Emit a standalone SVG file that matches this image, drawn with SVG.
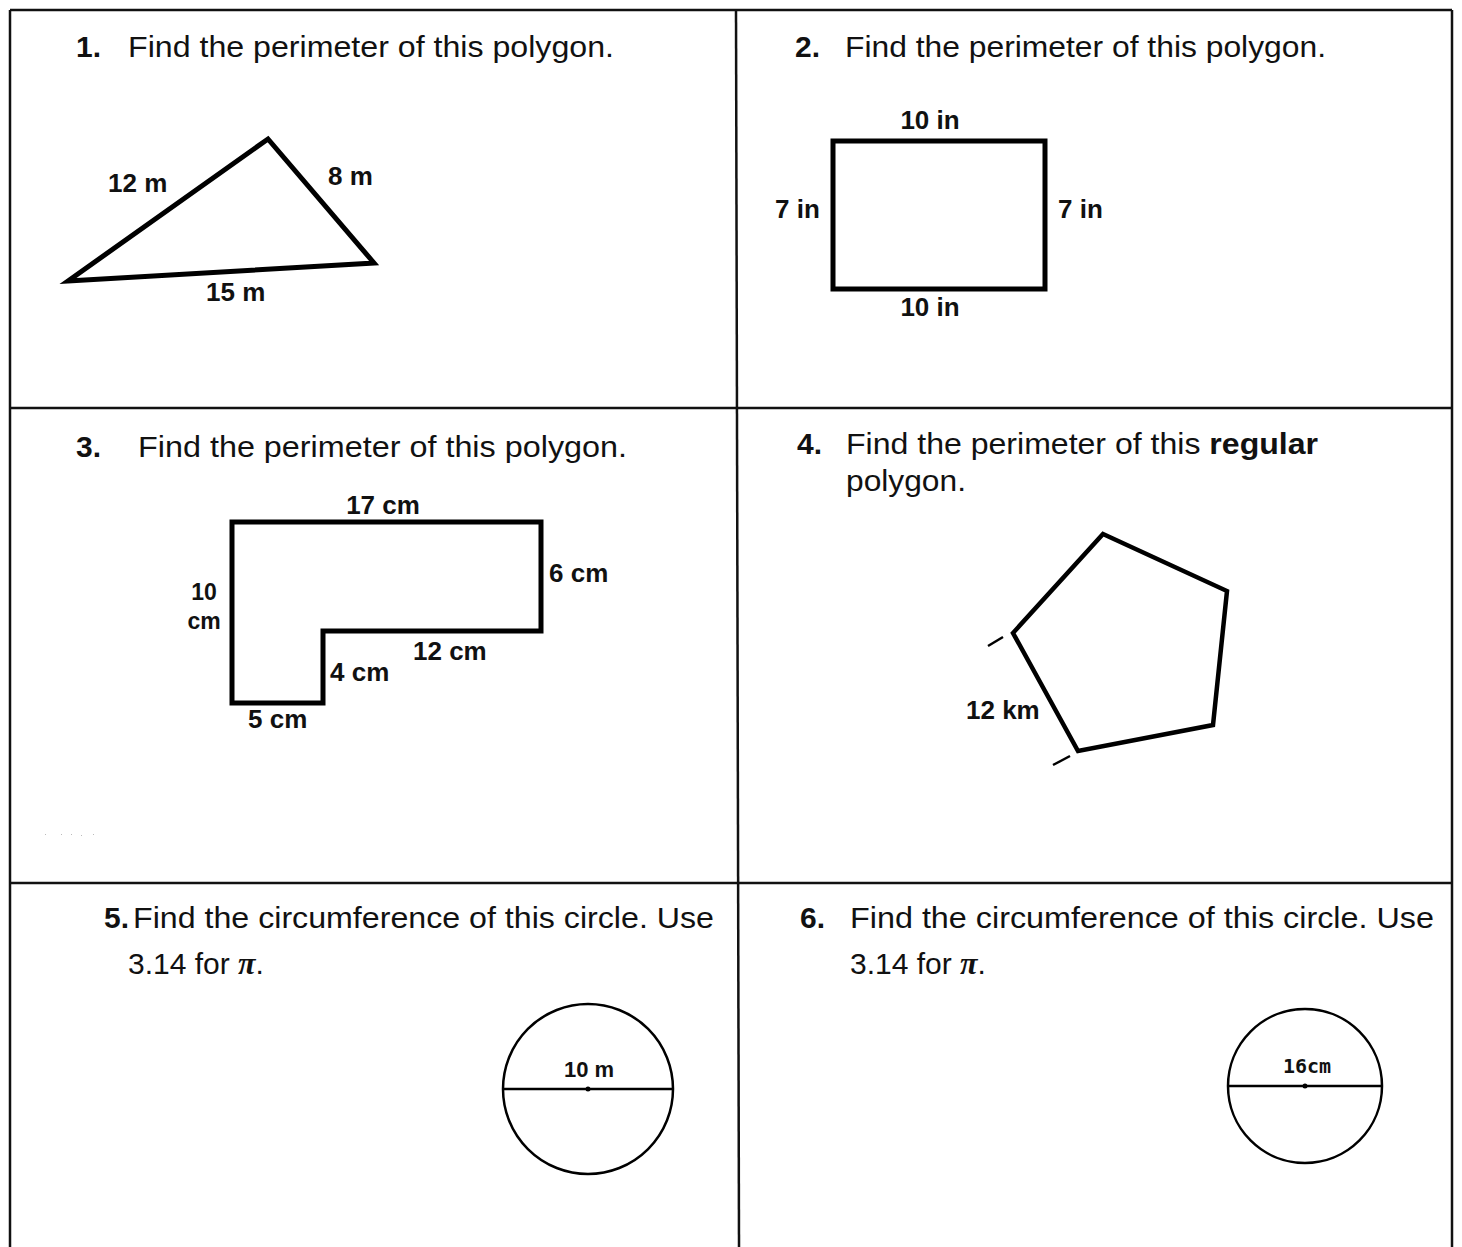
<svg xmlns="http://www.w3.org/2000/svg" width="1462" height="1247" viewBox="0 0 1462 1247">
<style>
.q{font-family:"Liberation Sans",Arial,sans-serif;font-size:30px;fill:#111}
.n{font-weight:bold}
.lbl{font-family:"Liberation Sans",Arial,sans-serif;font-size:26px;font-weight:bold;fill:#111}
.sm{font-size:23px}
.mono{font-family:"DejaVu Sans Mono","Liberation Mono",monospace;font-size:20px;font-weight:bold;fill:#111}
.pi{font-family:"Liberation Serif","Times New Roman",serif;font-weight:bold;font-style:italic;font-size:32px}
.grid{stroke:#111;stroke-width:2.5;fill:none}
.shape{stroke:#000;stroke-width:5;fill:none;stroke-linejoin:miter}
.thin{stroke:#000;stroke-width:2.5;fill:none}
</style>
<rect width="1462" height="1247" fill="#fff"/>
<g id="grid">
<line class="grid" x1="10" y1="10" x2="1452" y2="10"/>
<line class="grid" x1="10" y1="10" x2="10" y2="1247"/>
<line class="grid" x1="1452" y1="10" x2="1452" y2="1247"/>
<line class="grid" x1="736" y1="10" x2="739" y2="1247"/>
<line class="grid" x1="10" y1="408" x2="1452" y2="408"/>
<line class="grid" x1="10" y1="883" x2="1452" y2="883"/>
</g>
<g id="p1">
<text class="q n" x="76" y="57">1.</text>
<text class="q" x="128" y="57" textLength="486" lengthAdjust="spacingAndGlyphs">Find the perimeter of this polygon.</text>
<polygon class="shape" points="68,281 268,139 374,263"/>
<text class="lbl" x="108" y="192">12 m</text>
<text class="lbl" x="328" y="185">8 m</text>
<text class="lbl" x="206" y="301">15 m</text>
</g>
<g id="p2">
<text class="q n" x="795" y="57">2.</text>
<text class="q" x="845" y="57" textLength="481" lengthAdjust="spacingAndGlyphs">Find the perimeter of this polygon.</text>
<rect class="shape" x="833" y="141" width="212" height="148"/>
<text class="lbl" x="930" y="129" text-anchor="middle">10 in</text>
<text class="lbl" x="775" y="218">7 in</text>
<text class="lbl" x="1058" y="218">7 in</text>
<text class="lbl" x="930" y="316" text-anchor="middle">10 in</text>
</g>
<g id="p3">
<text class="q n" x="76" y="457">3.</text>
<text class="q" x="138" y="457" textLength="489" lengthAdjust="spacingAndGlyphs">Find the perimeter of this polygon.</text>
<polygon class="shape" points="232,522 541,522 541,631 323,631 323,703 232,703"/>
<text class="lbl" x="383" y="514" text-anchor="middle">17 cm</text>
<text class="lbl" x="549" y="582">6 cm</text>
<text class="lbl sm" x="204" y="600" text-anchor="middle">10</text>
<text class="lbl sm" x="204" y="629" text-anchor="middle">cm</text>
<text class="lbl" x="413" y="660">12 cm</text>
<text class="lbl" x="330" y="681">4 cm</text>
<text class="lbl" x="248" y="728">5 cm</text>
<g fill="#bbb"><rect x="45" y="834" width="1" height="1"/><rect x="61" y="834" width="1" height="1"/><rect x="71" y="834" width="1" height="1"/><rect x="81" y="835" width="1" height="1"/><rect x="93" y="834" width="1" height="1"/></g>
</g>
<g id="p4">
<text class="q n" x="797" y="454">4.</text>
<text class="q" x="846" y="454" textLength="472" lengthAdjust="spacingAndGlyphs">Find the perimeter of this <tspan class="n">regular</tspan></text>
<text class="q" x="846" y="491" textLength="120" lengthAdjust="spacingAndGlyphs">polygon.</text>
<polygon class="shape" style="stroke-width:4.5" points="1103,534 1227,591 1213,725 1078,751 1013,633"/>
<line class="thin" x1="988" y1="646" x2="1003" y2="637"/>
<line class="thin" x1="1053" y1="765" x2="1070" y2="756"/>
<text class="lbl" x="966" y="719">12 km</text>
</g>
<g id="p5">
<text class="q n" x="104" y="928">5.</text>
<text class="q" x="133" y="928" textLength="581" lengthAdjust="spacingAndGlyphs">Find the circumference of this circle.  Use</text>
<text class="q" x="128" y="974">3.14 for <tspan class="pi">π</tspan>.</text>
<circle class="thin" cx="588" cy="1089" r="85"/>
<line class="thin" x1="503" y1="1089" x2="673" y2="1089"/>
<circle cx="588" cy="1089" r="2.5" fill="#000"/>
<text class="lbl" x="589" y="1077" text-anchor="middle" style="font-size:22px">10 m</text>
</g>
<g id="p6">
<text class="q n" x="800" y="928">6.</text>
<text class="q" x="850" y="928" textLength="584" lengthAdjust="spacingAndGlyphs">Find the circumference of this circle.  Use</text>
<text class="q" x="850" y="974">3.14 for <tspan class="pi">π</tspan>.</text>
<circle class="thin" cx="1305" cy="1086" r="77"/>
<line class="thin" x1="1228" y1="1086" x2="1382" y2="1086"/>
<circle cx="1305" cy="1086" r="2.5" fill="#000"/>
<text class="mono" x="1307" y="1073" text-anchor="middle">16cm</text>
</g>
</svg>
